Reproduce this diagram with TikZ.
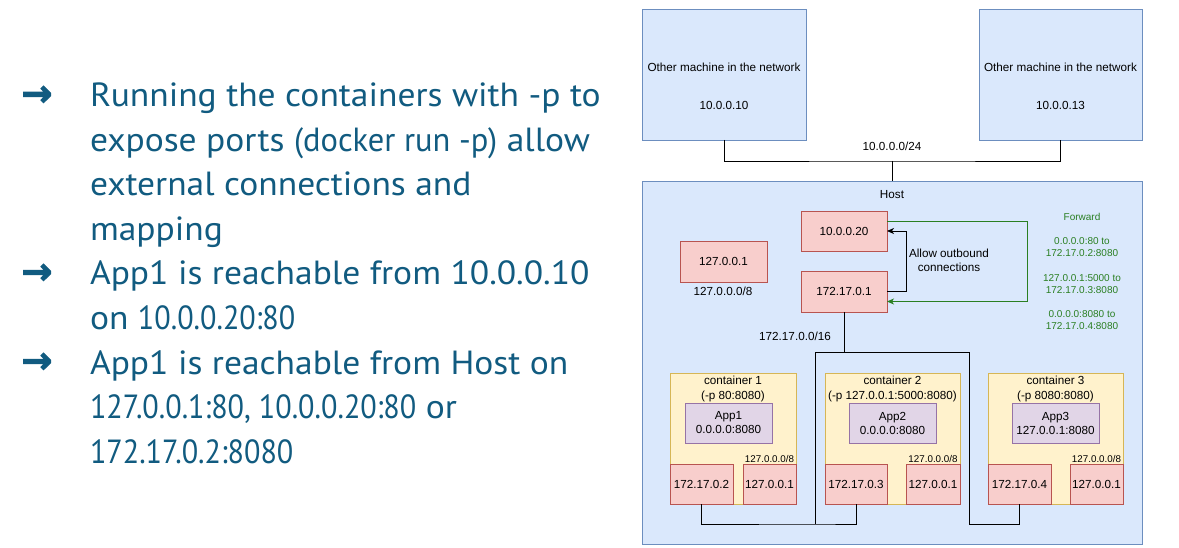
\documentclass[tikz,border=0pt]{standalone}
\usepackage{fontspec}
\setmainfont{Liberation Sans}
\newfontfamily\leftfont[FakeStretch=1.06]{PT Sans}
\newfontfamily\numfont[FakeStretch=0.9]{PT Sans}
\newfontfamily\dockfont[FakeStretch=0.97]{PT Sans}
\newfontfamily\arrowfont[FakeBold=2.5]{DejaVu Sans Bold}
\usetikzlibrary{arrows.meta,calc}
\definecolor{bfill}{HTML}{DAE8FC}
\definecolor{bline}{HTML}{6C8EBF}
\definecolor{rfill}{HTML}{F8CECC}
\definecolor{rline}{HTML}{B85450}
\definecolor{yfill}{HTML}{FFF2CC}
\definecolor{yline}{HTML}{D6B656}
\definecolor{pfill}{HTML}{E1D5E7}
\definecolor{pline}{HTML}{9673A6}
\definecolor{fgreen}{HTML}{2A7F22}
\definecolor{tblue}{HTML}{115B80}
\newcommand\myDia{\fontsize{11.7}{14}\selectfont}
\newcommand\mySmall{\fontsize{9.8}{11}\selectfont}
\newcommand\myGreen{\fontsize{10}{12.1}\selectfont}
\begin{document}
\begin{tikzpicture}[x=1pt,y=-1pt,
  every node/.style={inner sep=0pt, outer sep=0pt},
  box/.style={draw, line width=0.9pt, anchor=north west, font=\myDia, align=center},
  bluebox/.style={box, fill=bfill, draw=bline},
  redbox/.style={box, fill=rfill, draw=rline},
  yelbox/.style={box, fill=yfill, draw=yline},
  purbox/.style={box, fill=pfill, draw=pline},
  lbl/.style={font=\myDia, anchor=base, align=center},
  smalllbl/.style={font=\mySmall, anchor=base},
  wire/.style={draw=black, line width=0.9pt},
  gwire/.style={draw=fgreen, line width=0.9pt},
  tip/.style={-{Stealth[length=7pt,width=6pt,inset=2pt]}},
  lt/.style={font=\leftfont\fontsize{33.5}{38}\selectfont, text=tblue, anchor=base west},
  bul/.style={font=\arrowfont\fontsize{37}{40}\selectfont, text=tblue, anchor=center}
]
\useasboundingbox (0,0) rectangle (1179,548);
\fill[white] (0,0) rectangle (1179,548);

% left text
\node[bul] (b1) at (37,96) {→};
\node[bul] (b2) at (37,274) {→};
\node[bul] (b3) at (37,363) {→};
\node[lt] (l1) at (90,107) {Running the containers with -p to};
\node[lt] (l2) at (90,151.5) {expose ports {\dockfont (docker run -p)} allow};
\node[lt] (l3) at (90,196) {external connections and};
\node[lt] (l4) at (90,240.5) {mapping};
\node[lt] (l5) at (90,285) {App1 is reachable from 10.0.0.10};
\node[lt] (l6) at (90,329.5) {on {\numfont 10.0.0.20:80}};
\node[lt] (l7) at (90,374) {App1 is reachable from Host on};
\node[lt] (l8) at (90,418.5) {{\numfont 127.0.0.1:80, 10.0.0.20:80} or};
\node[lt] (l9) at (90,463) {{\numfont 172.17.0.2:8080}};

% other machines
\node[bluebox, minimum width=164, minimum height=131] (m1) at (642,9) {};
\node[bluebox, minimum width=163, minimum height=131] (m2) at (979,9) {};
\node[lbl] (m1t) at (724,72) {Other machine in the network};
\node[lbl] (m1ip) at (724,110) {10.0.0.10};
\node[lbl] (m2t) at (1060.5,72) {Other machine in the network};
\node[lbl] (m2ip) at (1060.5,110) {10.0.0.13};

% host
\node[bluebox, minimum width=500, minimum height=363] (host) at (642,181) {};
\node[lbl] (hostt) at (892,199) {Host};

\coordinate (net) at (892,161);
\draw[wire] (m1.south) |- (net) -| (m2.south);
\draw[wire] (net) -- (host.north);
\node[lbl] (netl) at (892,151) {10.0.0.0/24};

% host interfaces
\node[redbox, minimum width=86, minimum height=40] (h20) at (801,211) {10.0.0.20};
\node[redbox, minimum width=86, minimum height=41] (h1) at (801,271) {172.17.0.1};
\node[redbox, minimum width=87, minimum height=41] (hlo) at (680,241) {127.0.0.1};
\node[lbl] (hlol) at (723,296) {127.0.0.0/8};

\draw[wire, tip] (h1.east) -- ++(19,0) |- (h20.east);
\node[lbl] (allow) at (949,272) {Allow outbound\\connections};

\draw[gwire, tip] ($(h20.east)+(0,-10)$) -- ++(140,0) |- ($(h1.east)+(0,10)$);
\node[font=\myGreen, text=fgreen, anchor=base, align=center] (fwd) at (1082,329.5)
  {Forward\\[12.1pt]0.0.0.0:80 to\\172.17.0.2:8080\\[12.1pt]127.0.0.1:5000 to\\172.17.0.3:8080\\[12.1pt]0.0.0.0:8080 to\\172.17.0.4:8080};

\node[lbl] (brl) at (795,341) {172.17.0.0/16};

% containers
\node[yelbox, minimum width=126, minimum height=131] (c1) at (670,373) {};
\node[yelbox, minimum width=135, minimum height=131] (c2) at (825,373) {};
\node[yelbox, minimum width=135, minimum height=131] (c3) at (988,373) {};
\node[lbl] (c1t) at (733,399) {container 1\\(-p 80:8080)};
\node[lbl] (c2t) at (892.5,399) {container 2\\(-p 127.0.0.1:5000:8080)};
\node[lbl] (c3t) at (1055.5,399) {container 3\\(-p 8080:8080)};

\node[purbox, minimum width=87, minimum height=40] (a1) at (685,403) {App1\\0.0.0.0:8080};
\node[purbox, minimum width=87, minimum height=40] (a2) at (849,403) {App2\\0.0.0.0:8080};
\node[purbox, minimum width=87, minimum height=40] (a3) at (1012,403) {App3\\127.0.0.1:8080};

\node[redbox, minimum width=63, minimum height=40] (e1) at (670,464) {172.17.0.2};
\node[redbox, minimum width=53, minimum height=40] (o1) at (743,464) {127.0.0.1};
\node[redbox, minimum width=62, minimum height=40] (e2) at (825,464) {172.17.0.3};
\node[redbox, minimum width=54, minimum height=40] (o2) at (906,464) {127.0.0.1};
\node[redbox, minimum width=63, minimum height=40] (e3) at (988,464) {172.17.0.4};
\node[redbox, minimum width=53, minimum height=40] (o3) at (1070,464) {127.0.0.1};
\node[smalllbl] (o1l) at (769.5,462) {127.0.0.0/8};
\node[smalllbl] (o2l) at (933,462) {127.0.0.0/8};
\node[smalllbl] (o3l) at (1096.5,462) {127.0.0.0/8};

% bridge wiring
\coordinate (jl) at (815,352);
\coordinate (jr) at (969,352);
\coordinate (bl) at (815,524);
\coordinate (bR) at (969,524);
\draw[wire] (h1.south) -- (h1.south |- jl);
\draw[wire] (jl) -- (jr);
\draw[wire] (jl) -- (bl);
\draw[wire] (jr) -- (bR) -| (e3.south);
\draw[wire] (e1.south) |- (bl) -| (e2.south);
\end{tikzpicture}
\end{document}
